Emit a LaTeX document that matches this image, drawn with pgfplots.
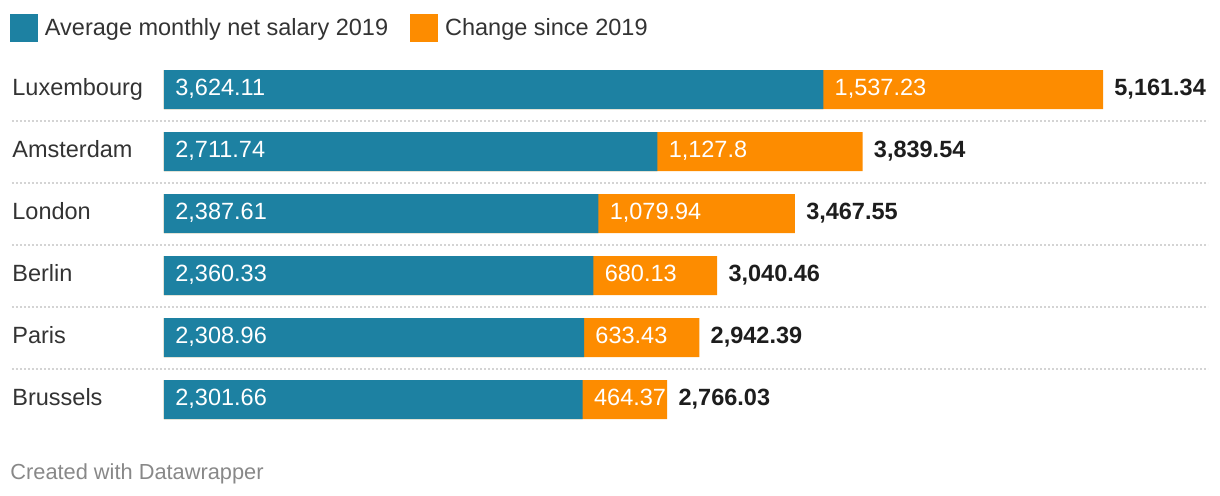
\documentclass[border=0pt]{standalone}
\usepackage{fontspec}
\setmainfont{Liberation Sans}
\usepackage{pgfplots}
\pgfplotsset{compat=1.18}
\usepackage{pgfplotstable}

\definecolor{dwteal}{HTML}{1D81A2}
\definecolor{dworange}{HTML}{FD8C00}
\definecolor{dwtext}{HTML}{333333}
\definecolor{dwbold}{HTML}{1D1D1D}
\definecolor{dwgrid}{HTML}{D4D4D4}
\definecolor{dwfoot}{HTML}{888888}

% y = row (0 = top), base = 2019 salary, total = 2019 + change
\pgfplotstableread{
y city       zero base    total   blabel   clabel   tlabel
0 Luxembourg 0    3624.11 5161.34 3,624.11 1,537.23 5,161.34
1 Amsterdam  0    2711.74 3839.54 2,711.74 1,127.8  3,839.54
2 London     0    2387.61 3467.55 2,387.61 1,079.94 3,467.55
3 Berlin     0    2360.33 3040.46 2,360.33 680.13   3,040.46
4 Paris      0    2308.96 2942.39 2,308.96 633.43   2,942.39
5 Brussels   0    2301.66 2766.03 2,301.66 464.37   2,766.03
}\salary

\newcommand{\lblfont}{\fontsize{11.75}{14}\selectfont}

\begin{document}
\begin{tikzpicture}
\path (0,0) rectangle (610pt,-248pt);
\begin{axis}[
  at={(82pt,-29.25pt)}, anchor=north west,
  scale only axis, width=469.5pt, height=186pt,
  xmin=0, xmax=5161.34, ymin=-0.5, ymax=5.5,
  y dir=reverse,
  axis lines=none, xtick=\empty, ytick=\empty,
  clip=false,
  legend columns=2,
  legend image code/.code={%
    \fill[#1] (0pt,-7pt) rectangle (14pt,7pt);
    \path (17.5pt,0pt);},
  legend style={draw=none, fill=none, inner sep=0pt, outer sep=0pt,
    anchor=north west, at={(-0.164,1.1196)},
    font=\lblfont, text=dwtext,
    nodes={inner sep=0pt},
    /tikz/every even column/.append style={column sep=11pt}},
  lbl/.style={nodes near coords, point meta=explicit symbolic,
    draw=none, mark=none, forget plot,
    nodes near coords style={anchor=base west, inner sep=0pt,
      yshift=-3.2pt, font=\lblfont}},
]
\addlegendimage{fill=dwteal, draw=none}
\addlegendentry{Average monthly net salary 2019}
\addlegendimage{fill=dworange, draw=none}
\addlegendentry{Change since 2019}

\pgfplotsinvokeforeach{0.5,1.5,2.5,3.5,4.5}{
  \draw[dwgrid, line width=1pt, dash pattern=on 1pt off 1pt]
    ([xshift=-76pt]axis cs:0,#1) -- ([xshift=52.5pt]axis cs:5161.34,#1);
}

\addplot[xbar, bar width=19.5pt, bar shift=0pt, fill=dworange, draw=none, forget plot]
  table[x=total, y=y] {\salary};
\addplot[xbar, bar width=19.5pt, bar shift=0pt, fill=dwteal, draw=none, forget plot]
  table[x=base, y=y] {\salary};

\addplot[lbl, nodes near coords style={text=dwtext, xshift=-76pt}]
  table[x=zero, y=y, meta=city] {\salary};
\addplot[lbl, nodes near coords style={text=white, xshift=5.5pt}]
  table[x=zero, y=y, meta=blabel] {\salary};
\addplot[lbl, nodes near coords style={text=white, xshift=5.5pt}]
  table[x=base, y=y, meta=clabel] {\salary};
\addplot[lbl, nodes near coords style={text=dwbold, xshift=5.5pt, font=\lblfont\bfseries}]
  table[x=total, y=y, meta=tlabel] {\salary};
\end{axis}
\node[anchor=base west, inner sep=0pt, text=dwfoot, font=\fontsize{10.9}{13}\selectfont]
  at (5pt,-239.5pt) {Created with Datawrapper};
\end{tikzpicture}
\end{document}
